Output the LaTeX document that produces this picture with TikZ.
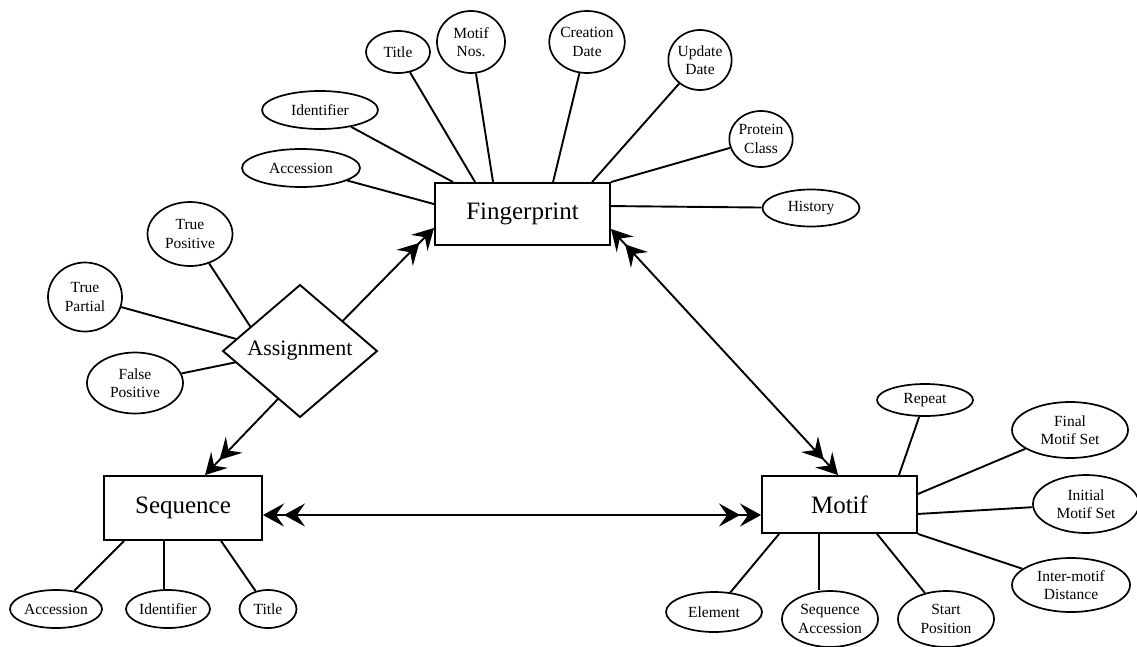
\documentclass[tikz,border=0pt]{standalone}
\usepackage{fontspec}
\setmainfont{Liberation Serif}
\usetikzlibrary{shapes.geometric,arrows.meta,calc}
\tikzset{
  attr/.style={ellipse, draw, line width=1.7pt, inner sep=0pt, align=center, font=\fontsize{15.5}{18.5}\selectfont},
  ent/.style={rectangle, draw, line width=1.9pt, inner sep=0pt, font=\fontsize{25}{29}\selectfont},
  rel/.style={diamond, draw, line width=1.9pt, inner sep=0pt, outer sep=0pt, font=\fontsize{22}{26}\selectfont},
  link/.style={line width=1.9pt},
  hd/.tip={Stealth[length=21pt,width=23pt,inset=8pt]},
}
\begin{document}
\begin{tikzpicture}[x=1pt,y=-1pt]
\useasboundingbox (0,0) rectangle (1137,646);
% entities
\node[ent, minimum width=175pt, minimum height=62pt] (fp) at (522.5,214) {Fingerprint};
\node[ent, minimum width=158pt, minimum height=64pt] (seq) at (183,508) {Sequence};
\node[ent, minimum width=155pt, minimum height=57pt] (mot) at (839.5,504.5) {Motif};
\node[rel, minimum width=154pt, minimum height=132pt] (asg) at (300,351) {Assignment};
% fingerprint attributes
\node[attr, minimum width=118pt, minimum height=38pt] (fpacc) at (301,168) {Accession};
\node[attr, minimum width=116pt, minimum height=38pt] (fpid) at (320,110) {Identifier};
\node[attr, minimum width=64pt, minimum height=42pt] (fptitle) at (398,52) {Title};
\node[attr, minimum width=68pt, minimum height=62pt] (fpmot) at (471,42) {Motif\\Nos.};
\node[attr, minimum width=67pt, minimum height=62pt] (fpcre) at (587,42) {Creation\\Date};
\node[attr, minimum width=63pt, minimum height=60pt] (fpupd) at (700,60) {Update\\Date};
\node[attr, minimum width=62pt, minimum height=56pt] (fpprot) at (761,139) {Protein\\Class};
\node[attr, minimum width=97pt, minimum height=37pt] (fphist) at (811,208) {History};
% assignment attributes
\node[attr, minimum width=85pt, minimum height=64pt] (tp) at (190,234) {True\\Positive};
\node[attr, minimum width=74pt, minimum height=69pt] (tpart) at (85,297) {True\\Partial};
\node[attr, minimum width=96pt, minimum height=61pt] (fpos) at (135,383) {False\\Positive};
% sequence attributes
\node[attr, minimum width=92pt, minimum height=38pt] (sacc) at (56,609) {Accession};
\node[attr, minimum width=84pt, minimum height=38pt] (sid) at (168,609) {Identifier};
\node[attr, minimum width=57pt, minimum height=38pt] (stitle) at (268,609) {Title};
% motif attributes
\node[attr, minimum width=96pt, minimum height=32pt] (mrep) at (925,400) {Repeat};
\node[attr, minimum width=116pt, minimum height=56pt] (mfin) at (1070,430) {Final\\Motif Set};
\node[attr, minimum width=106pt, minimum height=58pt] (mini) at (1086,504) {Initial\\Motif Set};
\node[attr, minimum width=118pt, minimum height=54pt] (mint) at (1071,585) {Inter-motif\\Distance};
\node[attr, minimum width=96pt, minimum height=40pt] (melem) at (714,612) {Element};
\node[attr, minimum width=96pt, minimum height=56pt] (mseq) at (830,619) {Sequence\\Accession};
\node[attr, minimum width=96pt, minimum height=56pt] (mstart) at (946,619) {Start\\Position};
% fingerprint links
\draw[link] (fpacc) -- ([yshift=-22pt]fp.north west);
\draw[link] (fpid) -- ([xshift=19pt]fp.north west);
\draw[link] (fptitle) -- ([xshift=41pt]fp.north west);
\draw[link] (fpmot) -- ([xshift=59pt]fp.north west);
\draw[link] (fpcre) -- ([xshift=119pt]fp.north west);
\draw[link] (fpupd) -- ([xshift=158pt]fp.north west);
\draw[link] (fpprot) -- (fp.north east);
\draw[link] (fphist) -- ([yshift=-24pt]fp.north east);
% assignment links
\draw[link] (tp) -- ($(asg.west)!0.36!(asg.north)$);
\draw[link] (tpart) -- ($(asg.west)!0.18!(asg.north)$);
\draw[link] (fpos) -- ($(asg.west)!0.17!(asg.south)$);
% relationships
\draw[link,-{hd[]hd[]}] ($(asg.north)!0.55!(asg.east)$) -- ([yshift=18pt]fp.south west);
\draw[link,-{hd[]hd[]}] ($(asg.south)!0.28!(asg.west)$) -- ([xshift=22pt]seq.north);
\draw[link,{hd[]hd[]}-{hd[]hd[]}] ([yshift=17pt]fp.south east) -- ([xshift=-1.5pt]mot.north);
\draw[link,{hd[]hd[]}-{hd[]hd[]}] ([yshift=-7pt]seq.east) -- ([yshift=-7pt]seq.east -| mot.west);
% sequence links
\draw[link] (sacc) -- ([xshift=21pt]seq.south west);
\draw[link] ([xshift=61pt]seq.south west) -- ([xshift=61pt]seq.south west |- sid.north);
\draw[link] (stitle) -- ([xshift=118pt]seq.south west);
% motif links
\draw[link] (melem) -- ([xshift=18pt]mot.south west);
\draw[link] ([xshift=58pt]mot.south west) -- ([xshift=58pt]mot.south west |- mseq.north);
\draw[link] (mstart) -- ([xshift=116pt]mot.south west);
\draw[link] (mint) -- (mot.south east);
\draw[link] (mini) -- ([yshift=20pt]mot.south east);
\draw[link] (mfin) -- ([yshift=40pt]mot.south east);
\draw[link] (mrep) -- ([xshift=-19pt]mot.north east);
\end{tikzpicture}
\end{document}
